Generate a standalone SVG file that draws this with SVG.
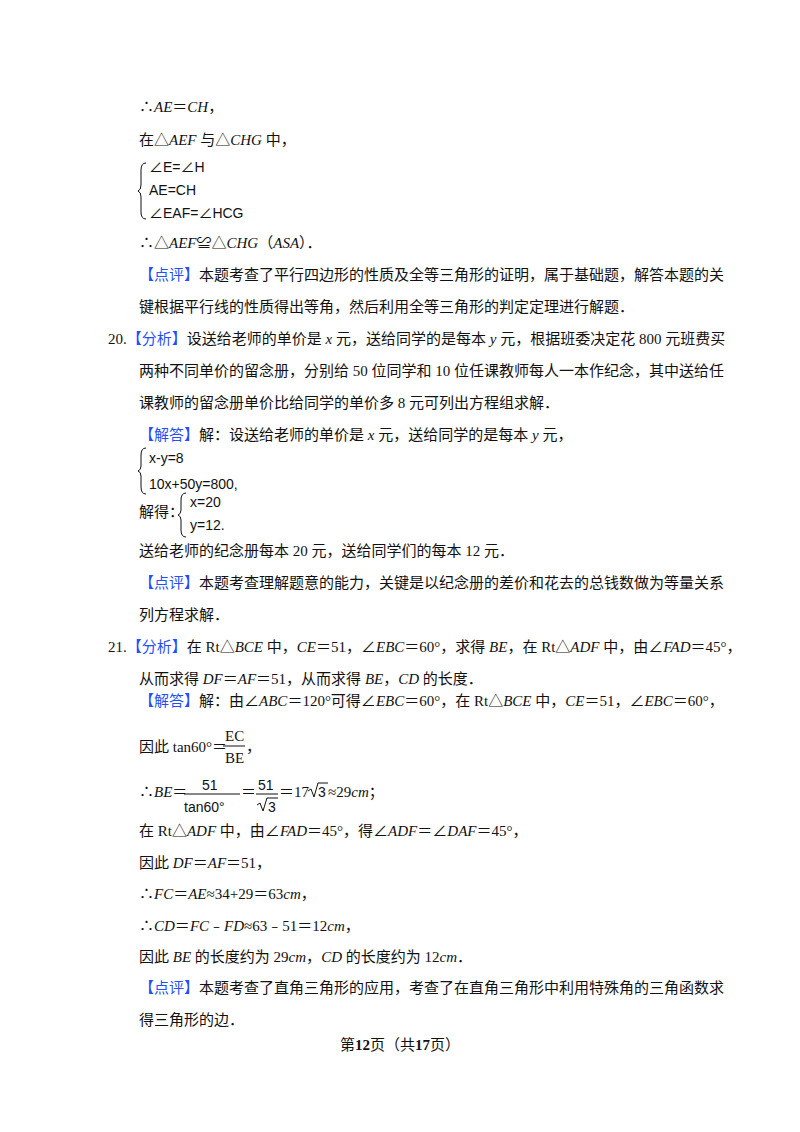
<svg xmlns="http://www.w3.org/2000/svg" width="800" height="1132" viewBox="0 0 800 1132">
<style>
text{font-family:"Liberation Serif","Noto Sans CJK SC",serif;font-size:15px;fill:#111}
.i{font-style:italic}
.b{fill:#1f4fff}
.s{font-family:"Liberation Sans","Noto Sans CJK SC",sans-serif;font-size:14px}
.ln{stroke:#111;stroke-width:1;fill:none}
</style>
<rect width="800" height="1132" fill="#fff"/>
<text x="139" y="112">∴<tspan class="i">AE</tspan>＝<tspan class="i">CH</tspan>，</text>
<text x="139" y="145">在△<tspan class="i">AEF</tspan> 与△<tspan class="i">CHG</tspan> 中，</text>
<path class="ln" d="M146,163 Q141,163 141,170 L141,185 Q141,190 138,191 Q141,192 141,197 L141,212 Q141,219 146,219"/>
<text x="149" y="172" class="s">∠E=∠H</text>
<text x="149" y="195" class="s">AE=CH</text>
<text x="149" y="218" class="s">∠EAF=∠HCG</text>
<text x="139" y="248">∴△<tspan class="i">AEF</tspan>≌△<tspan class="i">CHG</tspan>（<tspan class="i">ASA</tspan>）．</text>
<text x="139" y="280"><tspan class="b">【点评】</tspan>本题考查了平行四边形的性质及全等三角形的证明，属于基础题，解答本题的关</text>
<text x="139" y="312">键根据平行线的性质得出等角，然后利用全等三角形的判定定理进行解题．</text>
<text x="108" y="344">20.<tspan class="b">【分析】</tspan>设送给老师的单价是 <tspan class="i">x</tspan> 元，送给同学的是每本 <tspan class="i">y</tspan> 元，根据班委决定花 800 元班费买</text>
<text x="139" y="376">两种不同单价的留念册，分别给 50 位同学和 10 位任课教师每人一本作纪念，其中送给任</text>
<text x="139" y="408">课教师的留念册单价比给同学的单价多 8 元可列出方程组求解．</text>
<text x="139" y="440"><tspan class="b">【解答】</tspan>解：设送给老师的单价是 <tspan class="i">x</tspan> 元，送给同学的是每本 <tspan class="i">y</tspan> 元，</text>
<path class="ln" d="M146,448 Q141,448 141,455 L141,466 Q141,470 138,471 Q141,472 141,476 L141,487 Q141,494 146,494"/>
<text x="149" y="463" class="s">x-y=8</text>
<text x="149" y="489" class="s">10x+50y=800<tspan>,</tspan></text>
<text x="139" y="517">解得：</text>
<path class="ln" d="M186,493 Q181,493 181,500 L181,510 Q181,514 178,515 Q181,516 181,520 L181,530 Q181,537 186,537"/>
<text x="190" y="507" class="s">x=20</text>
<text x="190" y="530" class="s">y=12<tspan>.</tspan></text>
<text x="139" y="556">送给老师的纪念册每本 20 元，送给同学们的每本 12 元．</text>
<text x="139" y="588"><tspan class="b">【点评】</tspan>本题考查理解题意的能力，关键是以纪念册的差价和花去的总钱数做为等量关系</text>
<text x="139" y="620">列方程求解．</text>
<text x="108" y="652">21.<tspan class="b">【分析】</tspan>在 Rt△<tspan class="i">BCE</tspan> 中，<tspan class="i">CE</tspan>＝51，∠<tspan class="i">EBC</tspan>＝60°，求得 <tspan class="i">BE</tspan>，在 Rt△<tspan class="i">ADF</tspan> 中，由∠<tspan class="i">FAD</tspan>＝45°，</text>
<text x="139" y="684">从而求得 <tspan class="i">DF</tspan>＝<tspan class="i">AF</tspan>＝51，从而求得 <tspan class="i">BE</tspan>，<tspan class="i">CD</tspan> 的长度．</text>
<text x="139" y="706"><tspan class="b">【解答】</tspan>解：由∠<tspan class="i">ABC</tspan>＝120°可得∠<tspan class="i">EBC</tspan>＝60°，在 Rt△<tspan class="i">BCE</tspan> 中，<tspan class="i">CE</tspan>＝51，∠<tspan class="i">EBC</tspan>＝60°，</text>
<text x="139" y="752">因此 tan60°＝</text>
<text x="225" y="741" font-size="13">EC</text>
<line class="ln" x1="223" y1="746" x2="245" y2="746"/>
<text x="225" y="763" font-size="13">BE</text>
<text x="246" y="752">，</text>
<text x="139" y="797">∴<tspan class="i">BE</tspan>＝</text>
<text x="202" y="790" class="s" font-size="15">51</text>
<line class="ln" x1="184" y1="794" x2="240" y2="794"/>
<text x="184" y="812" class="s">tan60°</text>
<text x="241" y="797">＝</text>
<text x="258" y="790" class="s" font-size="15">51</text>
<line class="ln" x1="256" y1="794" x2="278" y2="794"/>
<path class="ln" d="M257,805 L260,803 L263,811 L267,798 L278,798"/>
<text x="268" y="812" class="s">3</text>
<text x="279" y="797">＝17</text>
<path class="ln" d="M308,791 L311,789 L314,797 L318,783 L328,783"/>
<text x="318" y="797" class="s">3</text>
<text x="328" y="797">≈29<tspan class="i">cm</tspan>；</text>
<text x="139" y="836">在 Rt△<tspan class="i">ADF</tspan> 中，由∠<tspan class="i">FAD</tspan>＝45°，得∠<tspan class="i">ADF</tspan>＝∠<tspan class="i">DAF</tspan>＝45°，</text>
<text x="139" y="868">因此 <tspan class="i">DF</tspan>＝<tspan class="i">AF</tspan>＝51，</text>
<text x="139" y="899">∴<tspan class="i">FC</tspan>＝<tspan class="i">AE</tspan>≈34+29＝63<tspan class="i">cm</tspan>，</text>
<text x="139" y="931">∴<tspan class="i">CD</tspan>＝<tspan class="i">FC</tspan>﹣<tspan class="i">FD</tspan>≈63﹣51＝12<tspan class="i">cm</tspan>，</text>
<text x="139" y="962">因此 <tspan class="i">BE</tspan> 的长度约为 29<tspan class="i">cm</tspan>，<tspan class="i">CD</tspan> 的长度约为 12<tspan class="i">cm</tspan>．</text>
<text x="139" y="993"><tspan class="b">【点评】</tspan>本题考查了直角三角形的应用，考查了在直角三角形中利用特殊角的三角函数求</text>
<text x="139" y="1025">得三角形的边．</text>
<text x="400" y="1050" text-anchor="middle" font-size="13">第<tspan font-weight="bold">12</tspan>页（共<tspan font-weight="bold">17</tspan>页）</text>
</svg>
